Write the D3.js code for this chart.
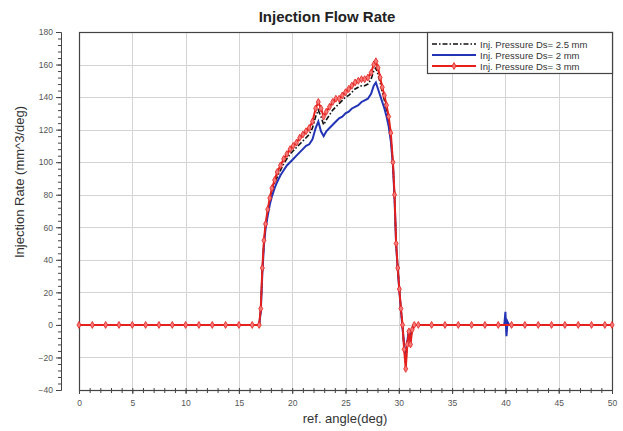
<!DOCTYPE html>
<html>
<head>
<meta charset="utf-8">
<script src="https://cdn.jsdelivr.net/npm/d3@7/dist/d3.min.js"></script>
<style>
  html, body { margin: 0; padding: 0; background: #fff; }
  svg { display: block; font-family: "Liberation Sans", Arial, sans-serif; }
</style>
</head>
<body>
<svg id="chart" width="623" height="431"></svg>
<script>
// Crank angle samples (deg) shared by all three series
const angle = [
  0, 1.25, 2.5, 3.75, 5, 6.25, 7.5, 8.75, 10, 11.25, 12.5, 13.75, 15, 16.25,
  16.9, 17.05, 17.2, 17.35, 17.5, 17.7, 17.9, 18.1, 18.35, 18.6, 18.9, 19.2, 19.5, 19.8,
  20.1, 20.4, 20.7, 21.0, 21.3, 21.6, 21.9, 22.2, 22.45, 22.7, 22.95, 23.2, 23.5, 23.8,
  24.1, 24.4, 24.7, 25.0, 25.3, 25.6, 25.9, 26.2, 26.5, 26.8, 27.1, 27.4, 27.65, 27.85,
  28.05, 28.25, 28.45, 28.65, 28.85, 29.05, 29.25, 29.45, 29.6, 29.75, 29.9, 30.05, 30.2,
  30.35, 30.5, 30.65, 30.8, 30.95, 31.1, 31.25, 31.45,
  31.83, 33.08, 34.33, 35.58, 36.83, 38.08, 39.33, 39.9, 40.0, 40.1, 40.2, 40.35, 40.58,
  41.83, 43.08, 44.33, 45.58, 46.83, 48.08, 49.33, 50
];

// Injection rate (mm^3/deg) for each nozzle diameter
const rateDs25 = [
  0, 0, 0, 0, 0, 0, 0, 0, 0, 0, 0, 0, 0, 0,
  0, 9, 34, 51, 61, 69, 76, 82, 87, 91, 95, 99, 102, 105,
  107, 109, 111, 113, 115, 117, 121, 128, 132, 128, 123, 126, 129, 132,
  134, 136, 138, 140, 141, 143, 145, 146, 147, 147, 148, 151, 156, 158,
  154, 149, 143, 138, 132, 125, 116, 99, 79, 50, 35, 22, 10,
  -1, -14, -24, -11, -4, -10, -2, 0,
  0, 0, 0, 0, 0, 0, 0, 0, 4, -4, 1, 0, 0,
  0, 0, 0, 0, 0, 0, 0, 0
];
const rateDs2 = [
  0, 0, 0, 0, 0, 0, 0, 0, 0, 0, 0, 0, 0, 0,
  0, 8, 32, 49, 59, 67, 74, 79, 84, 88, 92, 95, 98, 100,
  102, 104, 106, 108, 110, 111, 114, 121, 125, 119, 116, 119, 121, 123,
  125, 127, 128, 130, 131, 133, 134, 135, 137, 138, 139, 142, 147, 149,
  145, 141, 137, 133, 128, 122, 113, 98, 78, 49, 34, 21, 9,
  -2, -12, -20, -10, -3, -8, -2, 0,
  0, 0, 0, 0, 0, 0, 0, 0, 8, -7, 2, 0, 0,
  0, 0, 0, 0, 0, 0, 0, 0
];
const rateDs3 = [
  0, 0, 0, 0, 0, 0, 0, 0, 0, 0, 0, 0, 0, 0,
  0, 10, 35, 52, 62, 71, 78, 84, 89, 94, 98, 102, 105, 108,
  110, 112, 115, 117, 119, 121, 125, 133, 137, 133, 128, 131, 134, 137,
  139, 139, 141, 143, 145, 147, 149, 150, 151, 151, 152, 155, 160, 162,
  158, 152, 146, 141, 135, 128, 118, 100, 80, 50, 35, 22, 10,
  0, -15, -27, -12, -4, -12, -3, 0,
  0, 0, 0, 0, 0, 0, 0, 0, 0, 0, 0, 0, 0,
  0, 0, 0, 0, 0, 0, 0, 0
];
// Samples of the Ds= 3 mm curve that carry a marker
const markedAngles = angle.filter(a => a < 39.5 || a > 40.5);

const xTicks = [0, 5, 10, 15, 20, 25, 30, 35, 40, 45, 50];
const yTicks = [-40, -20, 0, 20, 40, 60, 80, 100, 120, 140, 160, 180];

const seriesNames = ["Inj. Pressure Ds= 2.5 mm", "Inj. Pressure Ds= 2 mm", "Inj. Pressure Ds= 3 mm"];

const svg = d3.select("#chart");
const margin = { left: 79, right: 11, top: 32, bottom: 41 };
const W = 623, H = 431;
const x = d3.scaleLinear().domain([0, 50]).range([margin.left, W - margin.right]);
const y = d3.scaleLinear().domain([-40, 180]).range([H - margin.bottom, margin.top]);

// grid
const grid = svg.append("g").attr("stroke", "#d4d4d4").attr("stroke-width", 1);
grid.selectAll(".vx").data(xTicks.slice(1, -1)).join("line")
  .attr("x1", d => Math.round(x(d)) + 0.5).attr("x2", d => Math.round(x(d)) + 0.5)
  .attr("y1", y(180)).attr("y2", y(-40));
grid.selectAll(".hy").data(yTicks.slice(1, -1)).join("line")
  .attr("y1", d => Math.round(y(d)) + 0.5).attr("y2", d => Math.round(y(d)) + 0.5)
  .attr("x1", x(0)).attr("x2", x(50));

// plot frame
svg.append("rect")
  .attr("x", x(0) + 0.5).attr("y", y(180) + 0.5)
  .attr("width", x(50) - x(0)).attr("height", y(-40) - y(180))
  .attr("fill", "none").attr("stroke", "#444").attr("stroke-width", 1.2);

// y axis, offset to the left of the frame
const yAxisX = 61;
const yAxis = d3.axisLeft(y).tickValues(yTicks).tickSize(5).tickPadding(3);
const gy = svg.append("g").attr("transform", `translate(${yAxisX},0)`).call(yAxis);
gy.append("g").call(d3.axisLeft(y).tickValues(d3.range(-40, 181, 4)).tickSize(3).tickFormat(""));

// x axis along the bottom of the frame
const gx = svg.append("g").attr("transform", `translate(0,${y(-40)})`)
  .call(d3.axisBottom(x).tickValues(xTicks).tickSize(4).tickPadding(6));
gx.append("g").call(d3.axisBottom(x).tickValues(d3.range(0, 51, 1)).tickSize(3).tickFormat(""));
gx.append("g").call(d3.axisTop(x).tickValues(d3.range(0, 51, 1)).tickSize(2).tickFormat(""));

[gx, gy].forEach(g => {
  g.selectAll("text").attr("font-size", 8.5).attr("fill", "#555")
    .attr("font-family", "Liberation Sans, Arial, sans-serif");
  g.selectAll("path.domain").attr("stroke", "#444");
  g.selectAll(".tick line").attr("stroke", "#444");
});
gx.selectAll("g g path.domain").remove();
gy.selectAll("g g path.domain").remove();

// series lines
const line = vals => d3.line().x((d, i) => x(angle[i])).y(d => y(d))(vals);
svg.append("path").attr("d", line(rateDs25)).attr("fill", "none")
  .attr("stroke", "#111").attr("stroke-width", 1.6).attr("stroke-dasharray", "5,2,1.5,2");
svg.append("path").attr("d", line(rateDs2)).attr("fill", "none")
  .attr("stroke", "#2233b5").attr("stroke-width", 2);
svg.append("path").attr("d", line(rateDs3)).attr("fill", "none")
  .attr("stroke", "#e5201c").attr("stroke-width", 2);

const diamond = d3.symbol().type(d3.symbolDiamond).size(14);
svg.append("g").selectAll("path")
  .data(markedAngles.map(a => [a, rateDs3[angle.indexOf(a)]]))
  .join("path")
  .attr("d", diamond)
  .attr("transform", d => `translate(${x(d[0])},${y(d[1])})`)
  .attr("fill", "#f47a7a").attr("stroke", "#e5201c").attr("stroke-width", 0.8);

// legend
const lg = svg.append("g");
lg.append("rect").attr("x", 427.5).attr("y", y(180) + 0.5).attr("width", x(50) - 427)
  .attr("height", 41).attr("fill", "#fff").attr("stroke", "#444").attr("stroke-width", 1.2);
const legendStyles = [
  { stroke: "#111", dash: "5,2,1.5,2", w: 1.6, mark: false },
  { stroke: "#2233b5", dash: null, w: 2.2, mark: false },
  { stroke: "#e5201c", dash: null, w: 2, mark: true }
];
seriesNames.forEach((name, i) => {
  const ly = 44 + i * 11;
  const s = legendStyles[i];
  lg.append("line").attr("x1", 432).attr("x2", 476).attr("y1", ly).attr("y2", ly)
    .attr("stroke", s.stroke).attr("stroke-width", s.w).attr("stroke-dasharray", s.dash);
  if (s.mark) {
    lg.append("path").attr("d", diamond).attr("transform", `translate(454,${ly})`)
      .attr("fill", "#f47a7a").attr("stroke", "#e5201c").attr("stroke-width", 0.8);
  }
  lg.append("text").attr("x", 480).attr("y", ly + 3.5).attr("font-size", 9.5)
    .attr("fill", "#333").text(name);
});

// titles
svg.append("text").attr("x", 327).attr("y", 22).attr("text-anchor", "middle")
  .attr("font-size", 15).attr("font-weight", "bold").attr("fill", "#222")
  .text("Injection Flow Rate");
svg.append("text").attr("x", 345).attr("y", 423).attr("text-anchor", "middle")
  .attr("font-size", 13).attr("fill", "#333").text("ref. angle(deg)");
svg.append("text").attr("transform", "translate(24,182) rotate(-90)")
  .attr("text-anchor", "middle").attr("font-size", 13).attr("fill", "#333")
  .text("Injection Rate  (mm^3/deg)");
</script>
</body>
</html>
